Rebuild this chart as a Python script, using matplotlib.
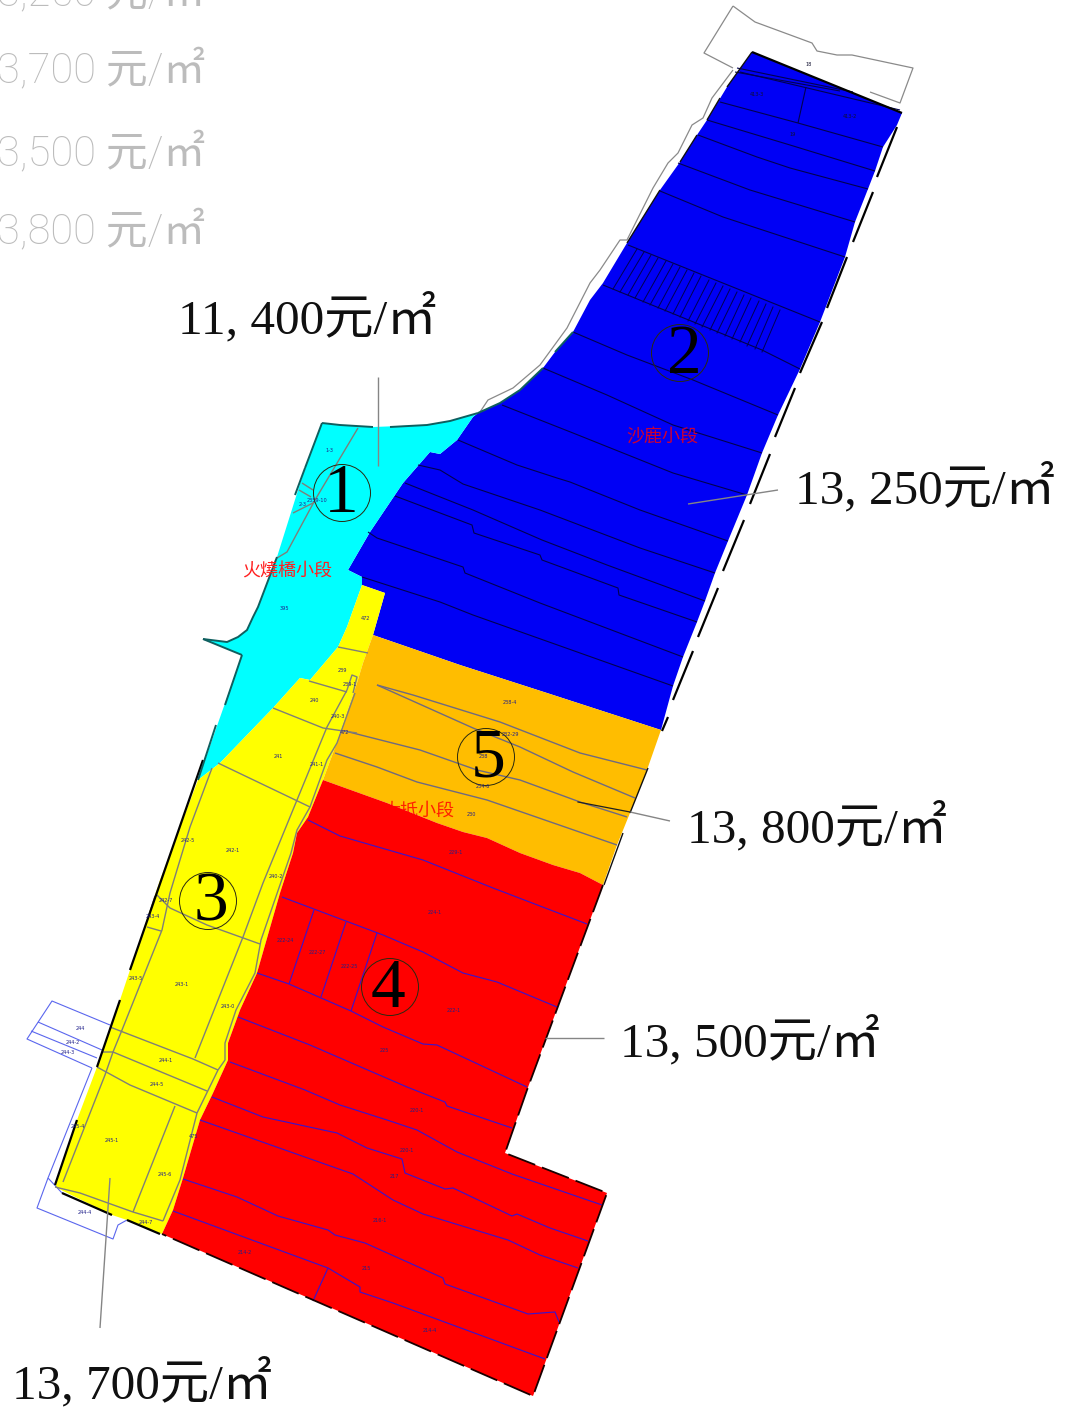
import matplotlib
matplotlib.use("Agg")
import matplotlib.pyplot as plt
from matplotlib.patches import Circle

# ---------- map zones ----------
zone_blue = [(752,52),(902,113),(897,125),(883,147),(875,171),(868,189),(855,222),(845,257),(820,322),(800,369),
             (778,415),(762,453),(747,495),(728,541),(715,573),(705,601),(697,622),(683,657),(673,686),(661,730),
             (547,693),(460,665),(373,635),(385,593),(362,585),(362,577),(348,570),(370,532),(403,483),(430,452),
             (440,454),(457,440),(473,417),(478,413),(500,403),(520,390),(543,368),(555,352),(573,332),(590,300),
             (603,283),(627,243),(660,190),(680,162),(697,135),(707,120),(727,87)]
zone_cyan = [(322,423),(340,425),(373,427),(427,425),(450,421),(478,413),(473,417),(457,440),(440,454),(430,452),
             (403,483),(370,532),(348,570),(362,577),(362,585),(347,627),(338,647),(310,680),(300,678),(273,708),
             (220,763),(198,780),(242,655),(203,639),(227,642),(238,637),(247,630),(253,617),(258,607),(277,557),(305,468)]
zone_yellow = [(362,585),(385,593),(373,635),(363,663),(357,683),(333,753),(323,780),(308,817),(297,833),(293,853),
               (280,893),(257,973),(240,1010),(228,1043),(228,1060),(213,1093),(200,1120),(183,1178),(173,1210),
               (162,1234),(127,1220),(112,1215),(55,1187),(77,1120),(97,1067),(120,1000),(160,880),(198,780),
               (220,763),(273,708),(300,678),(310,680),(338,647),(347,627)]
zone_orange = [(373,635),(460,665),(547,693),(661,730),(647,770),(630,813),(617,845),(603,885),(580,873),(553,865),
               (520,853),(487,838),(463,832),(437,823),(387,803),(323,780),(333,753),(357,683),(363,663)]
zone_red = [(323,780),(387,803),(437,823),(463,832),(487,838),(520,853),(553,865),(580,873),(603,885),(527,1090),
            (505,1153),(607,1193),(533,1396),(162,1234),(173,1210),(183,1178),(200,1120),(213,1093),(228,1060),
            (228,1043),(240,1010),(257,973),(280,893),(293,853),(297,833),(308,817)]

# ---------- parcel lines ----------
blue_lines = [
    [(720,102),(798,123),(883,147)], [(707,120),(790,145),(875,171)],
    [(698,135),(757,157),(790,168),(868,189)], [(678,163),(750,190),(855,222)],
    [(660,191),(723,217),(845,257)], [(628,245),(820,322)], [(603,285),(762,350),(800,369)],
    [(806,87),(798,123)], [(735,72),(840,91)], [(737,68),(853,92)], [(740,72),(900,110)],
    [(573,332),(627,355),(693,380),(778,415)], [(543,368),(607,395),(673,425),(762,453)],
    [(502,405),(573,433),(673,473),(747,495)],
    [(458,440),(517,465),(557,478),(570,482),(640,510),(728,541)],
    [(418,465),(440,470),(463,484),(540,510),(640,548),(715,573)],
    [(405,483),(473,510),(542,540),(607,565),(705,601)],
    [(395,496),(472,525),(474,533),(540,555),(542,560),(618,588),(619,595),(697,622)],
    [(368,532),(377,538),(463,567),(465,573),(540,603),(683,657)],
    [(362,577),(440,602),(473,615),(673,686)],
]
hatch_top_x = [637,644,651,658,666,673,680,687,694,701,709,716,723,730,737,744,751,759,766,773,780]
hatch_top_y = [249,252,255,258,261,264,267,270,273,276,280,283,286,289,292,295,298,301,304,307,310]
hatch_bot_x = [613,620,628,635,643,650,658,665,673,680,688,695,702,710,717,725,732,740,747,755,762]
hatch_bot_y = [289,292,295,298,302,305,308,311,314,317,321,324,327,330,333,336,339,342,346,349,352]

red_lines = [
    [(308,820),(340,836),(423,860),(493,888),(587,924)],
    [(282,897),(383,935),(423,952),(463,973),(497,982),(557,1007)],
    [(314,910),(289,984)], [(346,922),(321,997)], [(377,933),(351,1011)],
    [(257,973),(289,984),(351,1011),(383,1027),(423,1044),(437,1045),(527,1087)],
    [(238,1017),(310,1045),(407,1087),(445,1102),(447,1106),(512,1128)],
    [(230,1062),(305,1090),(340,1105),(387,1120),(417,1130),(457,1152),(512,1174),(602,1205)],
    [(212,1097),(263,1117),(337,1133),(367,1148),(402,1159),(405,1173),(445,1189),(453,1188),(512,1216),(517,1214),(550,1228),(588,1241)],
    [(200,1120),(353,1174),(393,1200),(423,1214),(508,1240),(540,1255),(578,1268)],
    [(183,1179),(237,1197),(278,1216),(328,1230),(335,1235),(365,1243),(443,1278),(445,1284),(528,1314),(555,1312),(559,1322)],
    [(173,1211),(328,1268),(360,1287),(360,1292),(393,1303),(545,1359)],
    [(328,1268),(313,1301)],
]
orange_lines = [
    [(377,685),(413,695),(500,722),(580,753),(647,770)],
    [(377,685),(473,728),(520,747),(573,772),(635,798)],
    [(345,731),(420,750),(477,770),(520,780),(580,802),(627,817)],
    [(335,753),(377,767),(417,782),(487,800),(617,845)],
]
yellow_lines = [
    [(338,647),(368,653)], [(309,681),(347,692)], [(347,690),(352,675),(357,677),(353,693)],
    [(347,690),(327,727),(297,800),(263,883),(243,937),(195,1058)],
    [(355,693),(337,743),(327,760),(310,807),(297,830),(291,853),(261,940),(255,973),(236,1010),(225,1043),(225,1060),(218,1070),(197,1113),(180,1180),(163,1221)],
    [(273,708),(323,728),(357,733)], [(218,763),(310,807)],
    [(212,768),(190,827),(170,893),(162,930),(130,1010),(122,1030),(113,1052),(105,1075),(63,1182)],
    [(157,895),(170,908),(207,925),(260,944)], [(148,918),(155,896)], [(147,927),(161,931)],
    [(110,1027),(193,1059),(218,1070)], [(102,1052),(113,1052),(207,1091)], [(97,1067),(130,1085),(197,1113)],
    [(175,1106),(133,1212)], [(55,1187),(80,1193),(133,1212),(163,1221)],
    # streets through the cyan zone
    [(358,428),(315,500),(287,552),(277,558)], [(302,483),(313,490)], [(293,513),(315,502)], [(299,490),(311,497)],
]
outline_gray = [
    [(733,6),(755,22),(812,43),(817,51),(837,55),(852,55),(913,68),(900,103),(870,92)],
    [(733,6),(704,53),(733,68)],
    [(733,70),(727,78),(712,98),(703,118),(692,125),(688,133),(678,153),(668,163),(653,188),(627,240),(620,240),(600,270),(590,283),(567,328),(540,365),(513,388),(488,400),(480,412)],
]
outline_blue = [
    [(110,1025),(52,1001),(27,1039),(92,1068)], [(38,1022),(102,1050)], [(31,1031),(97,1058)],
    [(92,1068),(48,1178),(62,1193)], [(48,1178),(37,1208),(113,1239),(118,1225),(127,1220)],
]
edge_heavy = [
    [(752,52),(902,113)],
    [(897,127),(877,177)], [(873,192),(853,242)], [(847,257),(827,308)], [(822,322),(800,373)], [(795,388),(775,437)],
    [(770,454),(750,504)], [(744,520),(723,571)], [(718,588),(698,637)], [(693,651),(673,700)], [(668,717),(662,731)],
    [(203,760),(130,970)], [(120,1000),(97,1067)], [(77,1120),(55,1185)], [(62,1193),(112,1215)], [(127,1220),(160,1234)],
]
edge_thin = [
    [(752,52),(727,87)], [(720,98),(707,120)], [(697,135),(680,162)], [(660,190),(627,243)],
    [(648,768),(630,813)], [(623,833),(604,885)],
]
edge_teal = [[(322,423),(340,425),(373,427)], [(390,427),(427,425),(450,421),(478,413)],
             [(478,413),(500,403),(520,390),(543,368)], [(555,352),(573,332)],
             [(305,468),(322,423)], [(305,468),(295,495)], [(242,655),(225,705)], [(216,725),(198,780)],
             [(277,557),(258,607),(253,617),(247,630),(238,637),(227,642),(203,639)], [(203,639),(242,655)]]
edge_red = [(603,885),(527,1090),(505,1153),(607,1193),(533,1396),(162,1234)]

# ---------- annotation ----------
leaders = [[(378,377),(378,466)], [(778,490),(688,504)], [(670,821),(630,812)],
           [(604,1038),(545,1038)], [(110,1178),(100,1328)]]
leader_dark = [(578,802),(630,812)]
circle_labels = ["1", "2", "3", "4", "5"]
circle_x = [342, 680, 208, 390, 486]
circle_y = [493, 353, 901, 987, 757]
digit_x = [341, 684, 211, 388, 488]
digit_y = [495, 356, 904, 990, 760]
price_labels = ["11, 400元/㎡", "13, 250元/㎡", "13, 800元/㎡", "13, 500元/㎡", "13, 700元/㎡"]
price_x = [178, 795, 687, 620, 12]
price_y = [333, 503, 842, 1056, 1398]
ghost_labels = ["3,250 元/㎡", "3,700 元/㎡", "3,500 元/㎡", "3,800 元/㎡"]
ghost_y = [5, 82, 165, 243]
section_labels = ["火燒橋小段", "沙鹿小段", "大抵小段"]
section_x = [287, 662, 418]
section_y = [572, 437, 811]
section_colors = ["#ff2020", "#cc0033", "#ff2000"]

parcel_ids = ["472","239","239-1","240","240-3","472","241","241-1","242-5","242-1","240-2","242-7","243-4","243-5",
              "243-1","243-0","244","244-2","244-3","244-1","244-5","245-4","245-1","475","245-6","244-7","244-4",
              "1-3","2-3","2359-10","395","238-4","232-29","238","234-6","230","229-1","224-1","222-24","222-27",
              "222-25","222-1","225","220-1","220-1","217","216-1","214-2","215","214-4","18","413-3","413-2","19"]
parcel_x = [365,342,350,314,338,344,278,317,188,233,276,166,153,136,182,228,80,73,68,166,157,78,112,193,165,146,85,
            330,303,317,284,510,510,483,483,471,456,435,285,317,349,454,384,417,407,394,380,245,366,430,809,757,850,793]
parcel_y = [619,671,685,701,716,733,756,765,841,850,877,900,916,979,985,1007,1028,1043,1052,1061,1084,1127,1141,1137,
            1174,1222,1212,451,504,500,608,703,735,757,786,815,852,913,941,953,966,1011,1051,1110,1151,1177,1221,1253,
            1268,1331,65,95,116,135]
parcel_colors = ["#20208a"] * 50 + ["#101030"] * 4

# ---------- drawing ----------
plt.rcParams['font.family'] = ['Liberation Serif', 'Noto Sans CJK SC', 'DejaVu Sans']
fig = plt.figure(figsize=(10.72, 14.09), dpi=100, facecolor='white')
ax = fig.add_axes([0, 0, 1, 1])
ax.set_xlim(0, 1072)
ax.set_ylim(1409, 0)
ax.axis('off')


def xy(points):
    return [p[0] for p in points], [p[1] for p in points]


def draw(lines, color, lw, z):
    for line in lines:
        xs, ys = xy(line)
        ax.plot(xs, ys, color=color, lw=lw, zorder=z, solid_capstyle='butt')


for zone, colour in [(zone_blue, '#0000f5'), (zone_cyan, '#00ffff'), (zone_yellow, '#ffff00'),
                     (zone_orange, '#ffbd00')]:
    xs, ys = xy(zone)
    ax.fill(xs, ys, color=colour, lw=0, zorder=2)

# labels for the section under the red zone are partly covered
ax.text(section_x[2], section_y[2], section_labels[2], color=section_colors[2], fontsize=13,
        family=['Noto Sans CJK TC'], ha='center', va='center', zorder=3)
xs, ys = xy(zone_red)
ax.fill(xs, ys, color='#ff0000', lw=0, zorder=4)

draw(outline_gray, '#8a8a8a', 0.9, 5)
draw(outline_blue, '#5a66ee', 0.8, 5)
draw(blue_lines, '#000050', 0.8, 5)
for tx, ty, bx, by in zip(hatch_top_x, hatch_top_y, hatch_bot_x, hatch_bot_y):
    ax.plot([tx, bx], [ty, by], color='#000050', lw=0.7, zorder=5)
draw(red_lines, '#3f12c8', 0.85, 5)
draw(orange_lines, '#6f6a80', 1.0, 5)
draw(yellow_lines, '#7f7f78', 1.0, 5)

draw(edge_heavy, '#000000', 1.6, 6)
draw(edge_thin, '#101010', 1.0, 6)
draw(edge_teal, '#0f5f5f', 1.4, 6)
xs, ys = xy(edge_red)
ax.plot(xs, ys, color='#1a0000', lw=1.3, ls=(0, (16, 4)), zorder=6)

draw(leaders, '#858585', 1.0, 7)
xs, ys = xy(leader_dark)
ax.plot(xs, ys, color='#202020', lw=0.9, zorder=7)

for x, y in zip(circle_x, circle_y):
    ax.add_patch(Circle((x, y), 28.5, fill=False, ec='#2a2a10', lw=0.7, zorder=8))
for label, x, y in zip(circle_labels, digit_x, digit_y):
    ax.text(x, y, label, fontsize=50, color='black', ha='center', va='center', zorder=9,
            family=['Liberation Serif'])

for label, x, y in zip(price_labels, price_x, price_y):
    ax.text(x, y, label, fontsize=35.5, color='#101010', ha='left', va='baseline', zorder=9)

for label, y in zip(ghost_labels, ghost_y):
    ax.text(-3, y, label, fontsize=30, color='#bcbcbc', ha='left', va='baseline', zorder=9,
            family=['Roboto', 'Noto Sans CJK SC'], fontweight='light')

for i in range(2):
    ax.text(section_x[i], section_y[i], section_labels[i], color=section_colors[i], fontsize=13,
            family=['Noto Sans CJK TC'], ha='center', va='center', zorder=9)

for label, x, y, colour in zip(parcel_ids, parcel_x, parcel_y, parcel_colors):
    ax.text(x, y, label, fontsize=3.6, color=colour, ha='center', va='center', zorder=8,
            family=['DejaVu Sans'])

fig.savefig('out.png', dpi=100, facecolor='white')
